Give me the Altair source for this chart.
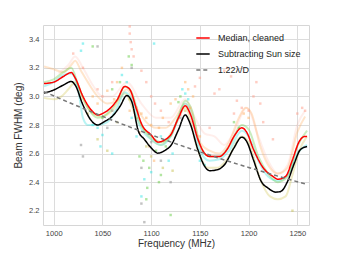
import altair as alt
import pandas as pd

# ---------------- data ----------------
med_f = [990, 1000, 1010, 1018, 1022, 1030, 1040, 1045, 1050, 1058, 1065, 1073, 1078, 1085, 1090,
         1100, 1107, 1115, 1120, 1128, 1135, 1140, 1148, 1155, 1160, 1170, 1178, 1185, 1193, 1198,
         1205, 1215, 1225, 1230, 1238, 1245, 1252, 1258, 1260]
med_v = [3.09, 3.10, 3.14, 3.167, 3.13, 3.00, 2.894, 2.87, 2.88, 2.917, 2.975, 3.07, 3.05, 2.91, 2.81,
         2.73, 2.68, 2.70, 2.73, 2.85, 2.934, 2.88, 2.70, 2.60, 2.58, 2.58, 2.63, 2.72, 2.78, 2.75,
         2.63, 2.50, 2.44, 2.42, 2.44, 2.556, 2.685, 2.72, 2.72]

sun_f = [990, 1000, 1010, 1018, 1022, 1030, 1038, 1045, 1052, 1060, 1068, 1075, 1080, 1087, 1093,
         1100, 1107, 1115, 1120, 1128, 1135, 1140, 1148, 1155, 1160, 1168, 1175, 1185, 1193, 1198,
         1205, 1213, 1220, 1228, 1233, 1240, 1247, 1253, 1260]
sun_v = [3.023, 3.045, 3.08, 3.105, 3.08, 2.94, 2.836, 2.80, 2.824, 2.86, 2.93, 3.006, 2.965, 2.755, 2.70,
         2.64, 2.603, 2.626, 2.654, 2.766, 2.87, 2.81, 2.626, 2.51, 2.48, 2.487, 2.52, 2.64, 2.715, 2.685,
         2.556, 2.405, 2.358, 2.33, 2.335, 2.405, 2.533, 2.626, 2.65]

diff_f = [990, 1020, 1050, 1080, 1100, 1130, 1150, 1180, 1200, 1230, 1260]
diff_v = [3.034, 2.945, 2.861, 2.781, 2.731, 2.658, 2.612, 2.545, 2.503, 2.442, 2.384]

faint_lines = {
    "#ffa090": ([1005, 1015, 1022, 1030, 1040, 1050, 1060, 1075, 1090, 1105, 1120, 1135, 1145, 1155,
                 1165, 1175, 1185, 1198, 1210, 1220, 1230, 1240, 1250, 1258],
                [3.16, 3.22, 3.28, 3.20, 3.08, 3.00, 3.00, 3.10, 2.95, 2.85, 2.85, 2.98, 2.85, 2.74,
                 2.72, 2.66, 2.75, 2.92, 2.72, 2.55, 2.46, 2.52, 2.80, 2.90]),
    "#ffaa55": ([990, 1000, 1010, 1018, 1022, 1028, 1035, 1045, 1055, 1065, 1075, 1085, 1095, 1105,
                 1115, 1125, 1135, 1142, 1150, 1160, 1170, 1180, 1190, 1197, 1203, 1212, 1222, 1230,
                 1240, 1250, 1258],
                [3.21, 3.19, 3.17, 3.22, 3.25, 3.18, 3.10, 3.00, 2.95, 2.97, 3.05, 2.92, 2.82, 2.78,
                 2.78, 2.85, 2.95, 2.88, 2.68, 2.62, 2.60, 2.68, 2.85, 2.92, 2.88, 2.65, 2.50, 2.46,
                 2.50, 2.75, 2.86]),
    "#d4c85a": ([990, 1000, 1008, 1015, 1022, 1030, 1040, 1050, 1060, 1073, 1085, 1100, 1110, 1125,
                 1135, 1148, 1158, 1168, 1178, 1193, 1200, 1212, 1222, 1230, 1238, 1245, 1252, 1260],
                [2.99, 2.98, 3.00, 3.05, 3.10, 2.98, 2.88, 2.86, 2.90, 3.02, 2.85, 2.70, 2.66, 2.80,
                 2.92, 2.62, 2.50, 2.50, 2.56, 2.72, 2.68, 2.42, 2.30, 2.28, 2.30, 2.45, 2.62, 2.72]),
    "#33e0e0": ([990, 1000, 1010, 1018, 1025, 1030, 1035, 1045, 1055, 1065, 1073, 1080, 1088, 1100,
                 1110, 1120, 1128, 1135, 1142, 1150, 1160, 1170, 1180, 1193, 1200, 1210, 1220, 1230,
                 1240, 1250, 1260],
                [3.07, 3.10, 3.15, 3.16, 3.05, 2.85, 2.80, 2.80, 2.82, 2.92, 3.03, 2.98, 2.80, 2.70,
                 2.66, 2.72, 2.85, 2.95, 2.85, 2.62, 2.55, 2.56, 2.62, 2.76, 2.72, 2.55, 2.44, 2.41,
                 2.45, 2.60, 2.66]),
    "#66cc44": ([990, 1000, 1010, 1018, 1025, 1035, 1045, 1055, 1065, 1073, 1080, 1090, 1100, 1110,
                 1120, 1128, 1135, 1142, 1150, 1160, 1170, 1180, 1193, 1200, 1210, 1220, 1230, 1240,
                 1250, 1260],
                [3.10, 3.12, 3.17, 3.20, 3.08, 2.92, 2.85, 2.88, 2.97, 3.07, 3.03, 2.80, 2.72, 2.68,
                 2.72, 2.86, 2.97, 2.90, 2.66, 2.58, 2.58, 2.65, 2.80, 2.77, 2.58, 2.46, 2.40, 2.44,
                 2.65, 2.76]),
}
faint_opacity = {"#ffa090": 0.18, "#ffaa55": 0.3, "#d4c85a": 0.35, "#33e0e0": 0.35, "#66cc44": 0.35}

scatter_pts = {
    "#ff9c88": ([1078, 1078, 1079, 1080, 1082, 1090, 1095, 1100, 1104, 1110, 1130, 1145, 1150, 1165,
                 1170, 1175, 1178, 1182, 1188, 1193, 1200, 1205, 1208, 1212, 1215, 1225, 1250, 1255,
                 1258, 1060, 1050, 1020, 1030, 1045, 1140, 1160, 1118, 1185],
                [3.49, 3.44, 3.38, 3.33, 3.28, 3.18, 3.10, 3.00, 2.95, 2.90, 2.87, 3.07, 3.13, 3.02,
                 3.05, 3.18, 3.20, 3.14, 2.97, 2.92, 2.90, 3.00, 3.10, 2.95, 2.82, 2.70, 2.88, 2.92,
                 2.90, 3.10, 3.00, 3.30, 3.20, 3.05, 2.82, 2.78, 2.82, 2.88]),
    "#ffb060": ([1055, 1062, 1085, 1090, 1095, 1100, 1108, 1112, 1120, 1125, 1135, 1138, 1143, 1150,
                 1098, 1065, 1070, 1040, 1045, 1078, 1088, 1140, 1195, 1200, 1103],
                [3.04, 2.98, 2.92, 2.88, 2.85, 2.80, 2.78, 2.85, 2.95, 2.98, 3.10, 3.05, 3.00, 2.72,
                 2.65, 3.10, 3.20, 3.00, 2.95, 2.90, 2.75, 2.92, 2.88, 2.85, 2.55]),
    "#33e6e6": ([1030, 1028, 1045, 1050, 1048, 1070, 1075, 1103, 1132, 1135, 1138, 1093, 1118, 1122,
                 1060, 1040, 1080, 1085, 1100, 1110, 1090, 1150, 1155],
                [3.37, 3.32, 2.78, 2.73, 2.65, 3.15, 3.10, 3.37, 3.05, 3.02, 2.98, 2.42, 2.55, 2.60,
                 2.60, 2.80, 2.85, 2.72, 2.47, 2.72, 2.30, 2.55, 2.52]),
    "#66cc44": ([1040, 1077, 1080, 1068, 1060, 1098, 1096, 1095, 1120, 1110, 1108, 1130, 1128, 1185,
                 1105, 1088, 1115, 1092, 1050, 1190],
                [3.35, 3.28, 3.22, 3.10, 3.05, 2.50, 2.36, 2.28, 2.17, 2.45, 2.40, 3.00, 2.96, 2.82,
                 2.62, 2.58, 2.65, 2.55, 2.85, 2.78]),
    "#c8c050": ([1245, 1065, 1100, 1122, 1078, 1085, 1095, 1135, 1035, 1045, 1055, 1112],
                [2.20, 2.82, 2.58, 2.48, 2.98, 2.85, 2.65, 2.90, 2.88, 2.70, 2.62, 2.50]),
    "#888888": ([1030, 1028, 1045, 1055, 1090, 1093, 1090, 1120, 1060, 1080, 1110, 1100, 1130],
                [2.58, 2.66, 3.35, 2.78, 2.50, 2.12, 2.25, 2.40, 2.90, 3.20, 2.55, 2.68, 2.85]),
}

x_ticks = [1000, 1050, 1100, 1150, 1200, 1250]
y_ticks = [2.2, 2.4, 2.6, 2.8, 3.0, 3.2, 3.4]

# ---------------- chart ----------------
FONT = "Liberation Sans"
xs = alt.Scale(domain=[989, 1262], nice=False, zero=False)
ys = alt.Scale(domain=[2.1, 3.5], nice=False, zero=False)

x_axis = alt.Axis(values=x_ticks, title="Frequency (MHz)", format="d")
y_axis = alt.Axis(values=y_ticks, title="Beam FWHM (deg)", format=".1f")

layers = []

# faint lines
for col, (fs, vs) in faint_lines.items():
    df = pd.DataFrame({"f": fs, "v": vs})
    layers.append(
        alt.Chart(df).mark_line(strokeWidth=2, opacity=faint_opacity[col], color=col,
                                interpolate="monotone").encode(
            x=alt.X("f:Q", scale=xs, axis=x_axis),
            y=alt.Y("v:Q", scale=ys, axis=y_axis),
        )
    )

# scatter
for col, (fs, vs) in scatter_pts.items():
    df = pd.DataFrame({"f": fs, "v": vs})
    layers.append(
        alt.Chart(df).mark_square(size=6, opacity=0.5, color=col).encode(
            x=alt.X("f:Q", scale=xs, axis=x_axis),
            y=alt.Y("v:Q", scale=ys, axis=y_axis),
        )
    )

names = ["Median, cleaned", "Subtracting Sun size", "1.22λ/D"]
main = pd.concat([
    pd.DataFrame({"f": med_f, "v": med_v, "s": names[0], "o": 1}),
    pd.DataFrame({"f": sun_f, "v": sun_v, "s": names[1], "o": 2}),
    pd.DataFrame({"f": diff_f, "v": diff_v, "s": names[2], "o": 0}),
])

main_layer = alt.Chart(main).mark_line(strokeWidth=1.5, interpolate="monotone").encode(
    x=alt.X("f:Q", scale=xs, axis=x_axis),
    y=alt.Y("v:Q", scale=ys, axis=y_axis),
    color=alt.Color("s:N", scale=alt.Scale(domain=names, range=["#ff0000", "#000000", "#777777"]),
                    legend=alt.Legend(title=None, orient="none", legendX=152, legendY=5,
                                      symbolType="stroke", symbolSize=180, symbolStrokeWidth=1.6,
                                      labelFontSize=9, labelFont=FONT, labelColor="#222",
                                      rowPadding=3, labelOffset=7)),
    strokeDash=alt.StrokeDash("s:N", scale=alt.Scale(domain=names, range=[[1, 0], [1, 0], [4, 3]]),
                              legend=None),
    order=alt.Order("o:Q"),
)
layers.append(main_layer)

chart = alt.layer(*layers).properties(
    width=266, height=200,
    autosize=alt.AutoSizeParams(type="none"),
    padding={"left": 35, "top": 17, "right": 20, "bottom": 25},
).configure_view(
    stroke="#d6d6d6", strokeWidth=1
).configure_axis(
    grid=True, gridColor="#dcdcdc", gridWidth=1, domain=False, ticks=False,
    labelFont=FONT, labelFontSize=7.5, labelColor="#444", labelPadding=4,
    titleFont=FONT, titleFontSize=10, titleColor="#333", titleFontWeight="normal",
).configure_axisY(titlePadding=5).configure_axisX(titlePadding=2)

chart.save("out.html", embed_options={"renderer": "svg", "actions": False})
